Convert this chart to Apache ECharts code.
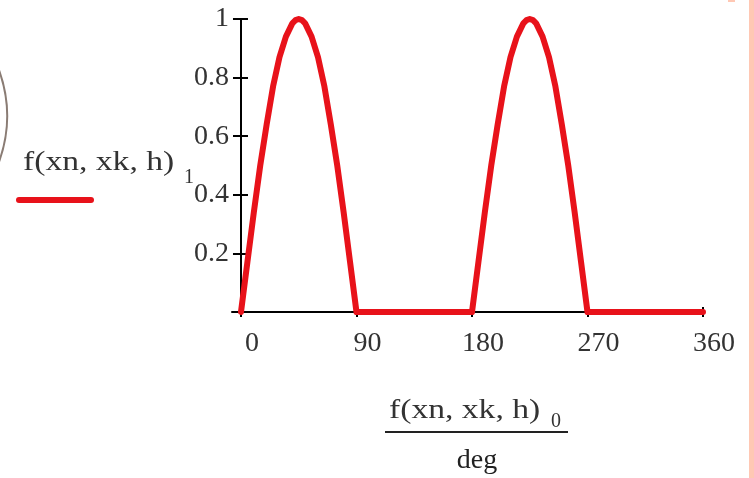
<!DOCTYPE html>
<html><head><meta charset="utf-8">
<script src="https://cdn.jsdelivr.net/npm/echarts@6/dist/echarts.min.js"></script>
<style>html,body{margin:0;padding:0;background:#fff}#c{width:754px;height:478px}</style>
</head><body><div id="c"></div>
<script>
// Data (x in degrees, y value)
const xDeg = [0,5,10,15,20,25,30,35,40,42.5,45,47.5,50,55,60,65,70,75,80,85,90,
              180,185,190,195,200,205,210,215,220,222.5,225,227.5,230,235,240,245,250,255,260,265,270,360];
const yVal = [0,0.17,0.34,0.50,0.64,0.77,0.87,0.94,0.985,0.996,1.00,0.996,0.985,0.94,0.87,0.77,0.64,0.50,0.34,0.17,0,
              0,0.17,0.34,0.50,0.64,0.77,0.87,0.94,0.985,0.996,1.00,0.996,0.985,0.94,0.87,0.77,0.64,0.50,0.34,0.17,0,0];
const xTicks = [0,90,180,270,360];
const yTicks = [0.2,0.4,0.6,0.8,1];
const seriesName = 'f(xn, xk, h)';

const points = xDeg.map((x,i)=>[x,yVal[i]]);
const font = 'Liberation Serif';
const labCol = '#333';
const chart = echarts.init(document.getElementById('c'));
const xBase = {type:'value', min:-7, max:360, splitLine:{show:false}};
const yBase = {type:'value', min:0, max:1, splitLine:{show:false}};
chart.setOption({
  animation:false,
  backgroundColor:'#fff',
  grid:{left:232, right:51, top:19, bottom:166},
  xAxis:[
    Object.assign({}, xBase, {
      axisLine:{show:true, lineStyle:{color:'#000', width:2}},
      axisTick:{show:true, customValues:xTicks, length:5, lineStyle:{color:'#000', width:2}},
      axisLabel:{customValues:xTicks, color:labCol, fontFamily:font, fontSize:28, margin:18, padding:[0,0,0,22]}
    }),
    Object.assign({}, xBase, {
      position:'bottom',
      axisLine:{show:false},
      axisTick:{show:true, inside:true, customValues:xTicks, length:5, lineStyle:{color:'#000', width:2}},
      axisLabel:{show:false}
    })
  ],
  yAxis:[
    Object.assign({}, yBase, {
      axisLine:{show:true, lineStyle:{color:'#000', width:2}},
      axisTick:{show:true, customValues:yTicks, length:8, lineStyle:{color:'#000', width:2}},
      axisLabel:{customValues:yTicks, color:labCol, fontFamily:font, fontSize:28, margin:3}
    }),
    Object.assign({}, yBase, {
      position:'left',
      axisLine:{show:false},
      axisTick:{show:true, inside:true, customValues:yTicks, length:7, lineStyle:{color:'#000', width:2}},
      axisLabel:{show:false}
    })
  ],
  series:[{
    name:seriesName, type:'line', data:points, showSymbol:false, smooth:false,
    xAxisIndex:0, yAxisIndex:0,
    lineStyle:{color:'#e8121a', width:6, join:'round', cap:'round'}
  }],
  graphic:[
    {type:'text', x:23, y:163, scaleX:1.2, style:{text:seriesName, font:'28px "Liberation Serif"', fill:labCol, textVerticalAlign:'middle'}},
    {type:'text', x:184, y:178, style:{text:'1', font:'20px "Liberation Serif"', fill:labCol, textVerticalAlign:'middle'}},
    {type:'line', shape:{x1:19, y1:200, x2:91, y2:200}, style:{stroke:'#e8121a', lineWidth:6, lineCap:'round'}},
    {type:'text', x:389, y:411, scaleX:1.2, style:{text:'f(xn, xk, h)', font:'28px "Liberation Serif"', fill:labCol, textVerticalAlign:'middle'}},
    {type:'text', x:551, y:422, style:{text:'0', font:'20px "Liberation Serif"', fill:labCol, textVerticalAlign:'middle'}},
    {type:'line', shape:{x1:385, y1:432, x2:568, y2:432}, style:{stroke:'#222', lineWidth:2}},
    {type:'text', x:477, y:461, style:{text:'deg', font:'28px "Liberation Serif"', fill:'#222', textAlign:'center', textVerticalAlign:'middle'}},
    {type:'arc', shape:{cx:-129, cy:116, r:136, startAngle:-0.34, endAngle:0.34}, style:{stroke:'#8a7c74', lineWidth:2, fill:null}},
    {type:'rect', shape:{x:749, y:0, width:5, height:478}, style:{fill:'#ffc8b4'}},
    {type:'rect', shape:{x:728, y:0, width:7, height:2}, style:{fill:'#ffc8b4'}}
  ]
});
</script></body></html>
